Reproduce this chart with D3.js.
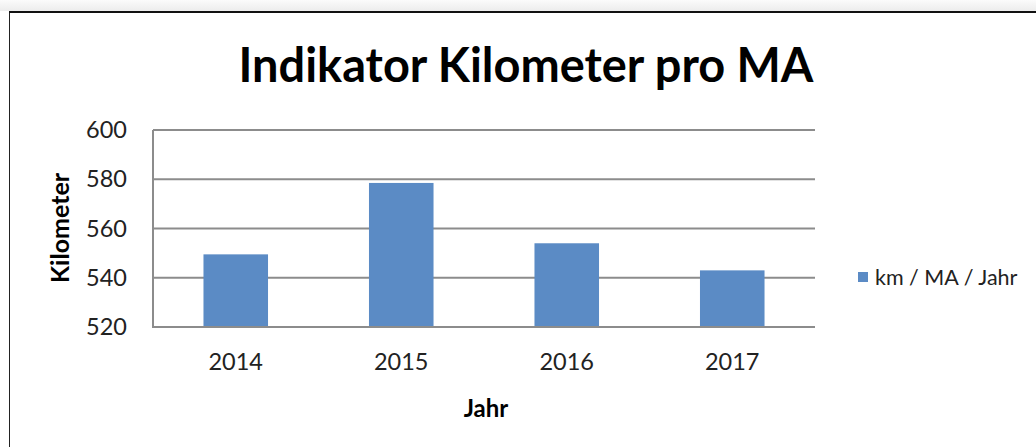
<!DOCTYPE html>
<html>
<head>
<meta charset="utf-8">
<script src="https://cdn.jsdelivr.net/npm/d3@7"></script>
<style>
  body { margin: 0; background: #fff; }
  svg { display: block; font-family: Lato, "Open Sans", sans-serif; }
</style>
</head>
<body>
<svg id="chart" width="1036" height="447"></svg>
<script>
// data
var years = ["2014", "2015", "2016", "2017"];
var kmPerMA = [549.5, 578.5, 554, 543];
var yTicks = [520, 540, 560, 580, 600];
var seriesName = "km / MA / Jahr";

var svg = d3.select("#chart");
var barColor = "#5b8bc5";
var gridColor = "#8c8c8c";
var labelSize = 23.5;

// soft shadow band above the frame
var grad = svg.append("defs").append("linearGradient")
  .attr("id", "shade").attr("x1", 0).attr("x2", 0).attr("y1", 0).attr("y2", 1);
grad.append("stop").attr("offset", "0%").attr("stop-color", "#fbfbfb");
grad.append("stop").attr("offset", "100%").attr("stop-color", "#ececec");
svg.append("rect").attr("x", 0).attr("y", 0).attr("width", 1036).attr("height", 11)
  .attr("fill", "url(#shade)");

// chart frame (runs past the right and bottom edges)
svg.append("rect")
  .attr("x", 9.5).attr("y", 12)
  .attr("width", 1040).attr("height", 450)
  .attr("fill", "#fff")
  .attr("stroke", "#222").attr("stroke-width", 1);
svg.append("line").attr("x1", 9).attr("x2", 1036).attr("y1", 12).attr("y2", 12)
  .attr("stroke", "#111").attr("stroke-width", 2);

var plotL = 153, plotR = 815, plotT = 130, plotB = 327;

var x = d3.scaleBand().domain(years).range([plotL, plotR]).paddingInner(0.61).paddingOuter(0.305);
var y = d3.scaleLinear().domain([520, 600]).range([plotB, plotT]);

// gridlines
svg.append("g").selectAll("line")
  .data(yTicks)
  .enter().append("line")
  .attr("x1", plotL).attr("x2", plotR)
  .attr("y1", function(d) { return y(d); })
  .attr("y2", function(d) { return y(d); })
  .attr("stroke", gridColor).attr("stroke-width", 2);

// bars
svg.append("g").selectAll("rect")
  .data(kmPerMA)
  .enter().append("rect")
  .attr("x", function(d, i) { return x(years[i]); })
  .attr("width", x.bandwidth())
  .attr("y", function(d) { return y(d); })
  .attr("height", function(d) { return y(520) - y(d); })
  .attr("fill", barColor);

// axes lines
svg.append("line").attr("x1", plotL).attr("x2", plotL).attr("y1", plotT).attr("y2", plotB)
  .attr("stroke", gridColor).attr("stroke-width", 2);
svg.append("line").attr("x1", plotL - 1).attr("x2", plotR).attr("y1", plotB).attr("y2", plotB)
  .attr("stroke", gridColor).attr("stroke-width", 2);

// y labels
var yAxis = d3.axisLeft(y).tickValues(yTicks).tickSize(0).tickPadding(26);
var gy = svg.append("g").attr("transform", "translate(" + plotL + ",0)").call(yAxis);
gy.select(".domain").remove();
gy.selectAll("text").attr("font-size", labelSize).attr("fill", "#222").attr("font-family", "Lato, sans-serif");

// x labels
var xAxis = d3.axisBottom(x).tickSize(0).tickPadding(26);
var gx = svg.append("g").attr("transform", "translate(0," + plotB + ")").call(xAxis);
gx.select(".domain").remove();
gx.selectAll("text").attr("font-size", labelSize).attr("fill", "#222").attr("font-family", "Lato, sans-serif");

// title
var title = svg.append("text")
  .attr("x", 526).attr("y", 82)
  .attr("text-anchor", "middle")
  .attr("font-size", 46).attr("font-weight", "bold").attr("fill", "#000")
  .text("Indikator Kilometer pro MA");
var tw = title.node().getComputedTextLength();
title.attr("font-size", 46 * 575 / tw);

// axis titles
svg.append("text")
  .attr("x", 486).attr("y", 417)
  .attr("text-anchor", "middle")
  .attr("font-size", 24).attr("font-weight", "bold")
  .text("Jahr");
svg.append("text")
  .attr("transform", "translate(69,228) rotate(-90)")
  .attr("text-anchor", "middle")
  .attr("font-size", 25).attr("font-weight", "bold")
  .text("Kilometer");

// legend
svg.append("rect").attr("x", 858).attr("y", 272).attr("width", 10).attr("height", 10)
  .attr("fill", barColor);
svg.append("text").attr("x", 875).attr("y", 285)
  .attr("font-size", 21.5).attr("fill", "#222")
  .text(seriesName);
</script>
</body>
</html>
